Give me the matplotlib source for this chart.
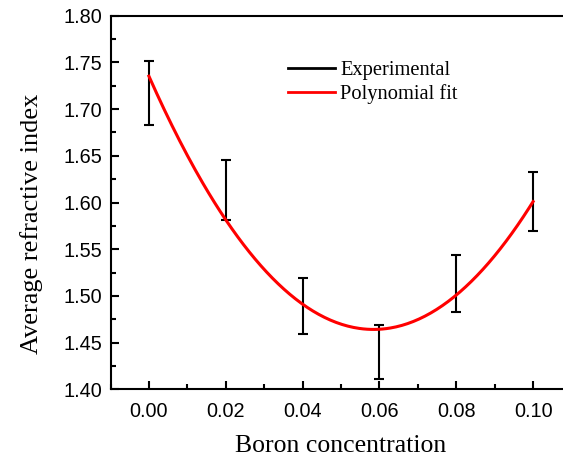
import numpy as np
import matplotlib
matplotlib.use("Agg")
import matplotlib.pyplot as plt
from matplotlib.lines import Line2D
from matplotlib.ticker import MultipleLocator

# valores
boro = [0.00, 0.02, 0.04, 0.06, 0.08, 0.10]
indice_medio = [1.7175, 1.613, 1.489, 1.440, 1.5135, 1.601]
erro = [0.0345, 0.032, 0.030, 0.029, 0.0305, 0.032]
# valores da curva de ajuste nos mesmos pontos
ajuste = [1.735, 1.582, 1.491, 1.464, 1.501, 1.601]

coef = np.polyfit(boro, ajuste, 2)
x_fit = np.linspace(boro[0], boro[-1], 200)
y_fit = np.polyval(coef, x_fit)

fig = plt.figure(figsize=(5.63, 4.59), dpi=100)
ax = fig.add_axes([110.5 / 563, 1 - 389.3 / 459, 461 / 563, 373.6 / 459])

ax.errorbar(boro, indice_medio, yerr=erro, fmt='none', ecolor='black',
            elinewidth=1.5, capsize=3.5, capthick=1.5)
ax.plot(x_fit, y_fit, color='red', linewidth=2.2)

ax.set_xlim(-0.01, 0.11)
ax.set_ylim(1.40, 1.80)
ax.xaxis.set_minor_locator(MultipleLocator(0.01))
ax.yaxis.set_minor_locator(MultipleLocator(0.025))
ax.set_xticks([0.00, 0.02, 0.04, 0.06, 0.08, 0.10])
ax.set_xticklabels(['0.00', '0.02', '0.04', '0.06', '0.08', '0.10'])
ax.set_yticks([1.40, 1.45, 1.50, 1.55, 1.60, 1.65, 1.70, 1.75, 1.80])
ax.set_yticklabels(['1.40', '1.45', '1.50', '1.55', '1.60', '1.65', '1.70', '1.75', '1.80'])

ax.tick_params(which='both', direction='in', width=1.5, top=False, right=False)
ax.tick_params(which='major', length=6, labelsize=14.3)
ax.tick_params(axis='x', which='major', pad=9)
ax.tick_params(axis='y', which='major', pad=6)
ax.tick_params(which='minor', length=3.5)
for lab in ax.get_xticklabels() + ax.get_yticklabels():
    lab.set_family('Liberation Sans')
for s in ax.spines.values():
    s.set_linewidth(1.5)

ax.set_xlabel('Boron concentration', family='Liberation Serif', fontsize=18.5, labelpad=10.5)
ax.set_ylabel('Average refractive index', family='Liberation Serif', fontsize=19)
ax.yaxis.set_label_coords(-0.1475, 0.4425)

handles = [Line2D([], [], color='black', linewidth=2),
           Line2D([], [], color='red', linewidth=2)]
ax.legend(handles, ['Experimental', 'Polynomial fit'], loc='upper left',
          bbox_to_anchor=(0.345, 0.93), frameon=False, handlelength=2.3,
          handletextpad=0.25, labelspacing=0.2,
          prop={'family': 'Liberation Serif', 'size': 14.8})

fig.savefig('out.png', dpi=100)
